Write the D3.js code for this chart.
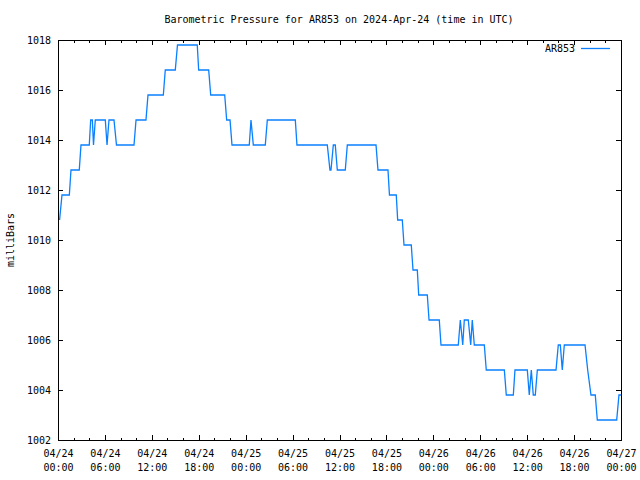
<!DOCTYPE html>
<html>
<head>
<meta charset="utf-8">
<script src="https://cdn.jsdelivr.net/npm/d3@7"></script>
<style>
  html, body { margin: 0; padding: 0; background: #fff; }
  svg { display: block; }
  text { font-family: "DejaVu Sans Mono", "Liberation Mono", monospace; font-size: 10px; fill: #000; }
</style>
</head>
<body>
<svg id="chart" width="640" height="480"></svg>
<script>
// ---- data (hours since 2024-04-24 00:00 UTC, pressure in milliBars) ----
const hours = [0.20, 0.51, 1.45, 1.66, 2.72, 2.94, 4.00, 4.18, 4.39, 4.54, 4.77, 6.05, 6.27, 6.52, 7.16, 7.48,
  9.72, 9.98, 11.25, 11.51, 13.47, 13.72, 15.00, 15.28, 17.81, 17.99, 19.27, 19.53, 21.32, 21.57, 22.00, 22.25,
  24.46, 24.68, 24.98, 26.51, 26.77, 30.35, 30.56, 34.44, 34.78, 34.91, 35.21, 35.46, 35.72, 36.74, 37.00, 40.67,
  40.92, 42.20, 42.39, 43.26, 43.44, 44.03, 44.25, 45.18, 45.40, 45.95, 46.13, 47.23, 47.45, 48.76, 48.98, 51.19,
  51.45, 51.76, 51.96, 52.47, 52.78, 52.98, 53.24, 54.52, 54.77, 57.08, 57.33, 58.23, 58.44, 60.02, 60.27, 60.53,
  60.78, 61.04, 61.30, 63.69, 63.98, 64.24, 64.49, 64.75, 67.40, 67.74, 68.16, 68.71, 68.97, 71.45, 71.74, 72.00];
const pressure = [1010.8, 1011.8, 1011.8, 1012.8, 1012.8, 1013.8, 1013.8, 1014.8, 1014.8, 1013.8, 1014.8, 1014.8, 1013.8, 1014.8, 1014.8, 1013.8,
  1013.8, 1014.8, 1014.8, 1015.8, 1015.8, 1016.8, 1016.8, 1017.8, 1017.8, 1016.8, 1016.8, 1015.8, 1015.8, 1014.8, 1014.8, 1013.8,
  1013.8, 1014.8, 1013.8, 1013.8, 1014.8, 1014.8, 1013.8, 1013.8, 1012.8, 1012.8, 1013.8, 1013.8, 1012.8, 1012.8, 1013.8, 1013.8,
  1012.8, 1012.8, 1011.8, 1011.8, 1010.8, 1010.8, 1009.8, 1009.8, 1008.8, 1008.8, 1007.8, 1007.8, 1006.8, 1006.8, 1005.8, 1005.8,
  1006.8, 1005.8, 1006.8, 1006.8, 1005.8, 1006.8, 1005.8, 1005.8, 1004.8, 1004.8, 1003.8, 1003.8, 1004.8, 1004.8, 1003.8, 1004.8,
  1003.8, 1003.8, 1004.8, 1004.8, 1005.8, 1005.8, 1004.8, 1005.8, 1005.8, 1004.8, 1003.8, 1003.8, 1002.8, 1002.8, 1003.8, 1003.8];
const yTicks = [1002, 1004, 1006, 1008, 1010, 1012, 1014, 1016, 1018];
const seriesName = "AR853";
const titleText = "Barometric Pressure for AR853 on 2024-Apr-24 (time in UTC)";
const yLabel = "milliBars";
const startDate = new Date(Date.UTC(2024, 3, 24, 0, 0));
const endDate = new Date(Date.UTC(2024, 3, 27, 0, 0));

const points = hours.map((h, i) => ({ t: new Date(startDate.getTime() + h * 3600e3), v: pressure[i] }));

const svg = d3.select("#chart");
const L = 58, R = 621, T = 40, B = 440;

const x = d3.scaleUtc().domain([startDate, endDate]).range([L, R]);
const y = d3.scaleLinear().domain([1002, 1018]).range([B, T]);

const majorX = d3.utcHour.every(6).range(startDate, new Date(endDate.getTime() + 1));
const minorX = d3.utcHour.every(2).range(startDate, new Date(endDate.getTime() + 1)).filter(d => d.getUTCHours() % 6 !== 0);

// frame
svg.append("rect").attr("x", L + 0.5).attr("y", T + 0.5).attr("width", R - L).attr("height", B - T)
  .attr("fill", "none").attr("stroke", "#000").attr("stroke-width", 1).attr("shape-rendering", "crispEdges");

function styleAxis(g) {
  g.select(".domain").remove();
  g.attr("font-size", null).attr("font-family", null);
  g.selectAll("line").attr("stroke", "#000").attr("shape-rendering", "crispEdges");
}

// bottom axis with two-line labels
const fmtD = d3.utcFormat("%m/%d"), fmtH = d3.utcFormat("%H:%M");
const gB = svg.append("g").attr("transform", `translate(0,${B})`)
  .call(d3.axisBottom(x).tickValues(majorX).tickSize(-5).tickFormat(""));
styleAxis(gB);
gB.selectAll(".tick").each(function(d) {
  const t = d3.select(this).append("text").attr("text-anchor", "middle").attr("fill", "#000");
  t.append("tspan").attr("x", 0).attr("y", 17).text(fmtD(d));
  t.append("tspan").attr("x", 0).attr("y", 31).text(fmtH(d));
});
styleAxis(svg.append("g").attr("transform", `translate(0,${B})`)
  .call(d3.axisBottom(x).tickValues(minorX).tickSize(-2.5).tickFormat("")));
// top mirror
styleAxis(svg.append("g").attr("transform", `translate(0,${T})`)
  .call(d3.axisTop(x).tickValues(majorX).tickSize(-5).tickFormat("")));
styleAxis(svg.append("g").attr("transform", `translate(0,${T})`)
  .call(d3.axisTop(x).tickValues(minorX).tickSize(-2.5).tickFormat("")));

// left axis
const gL = svg.append("g").attr("transform", `translate(${L},0)`)
  .call(d3.axisLeft(y).tickValues(yTicks).tickSize(-5).tickPadding(7).tickFormat(d3.format("d")));
styleAxis(gL);
gL.selectAll("text").attr("fill", "#000");
// right mirror
styleAxis(svg.append("g").attr("transform", `translate(${R},0)`)
  .call(d3.axisRight(y).tickValues(yTicks).tickSize(-5).tickFormat("")));

// data line
const line = d3.line().x(d => x(d.t)).y(d => y(d.v));
svg.append("path").datum(points).attr("d", line)
  .attr("fill", "none").attr("stroke", "#0a80ff").attr("stroke-width", 1.3)
  .attr("stroke-linejoin", "miter");

// title
svg.append("text").attr("x", 339).attr("y", 23).attr("text-anchor", "middle").text(titleText);
// y label
svg.append("text").attr("transform", "translate(14,240) rotate(-90)").attr("text-anchor", "middle").text(yLabel);
// legend
svg.append("text").attr("x", 575).attr("y", 52).attr("text-anchor", "end").text(seriesName);
svg.append("line").attr("x1", 581).attr("x2", 610).attr("y1", 48.5).attr("y2", 48.5)
  .attr("stroke", "#0a80ff").attr("stroke-width", 1.3);
</script>
</body>
</html>
